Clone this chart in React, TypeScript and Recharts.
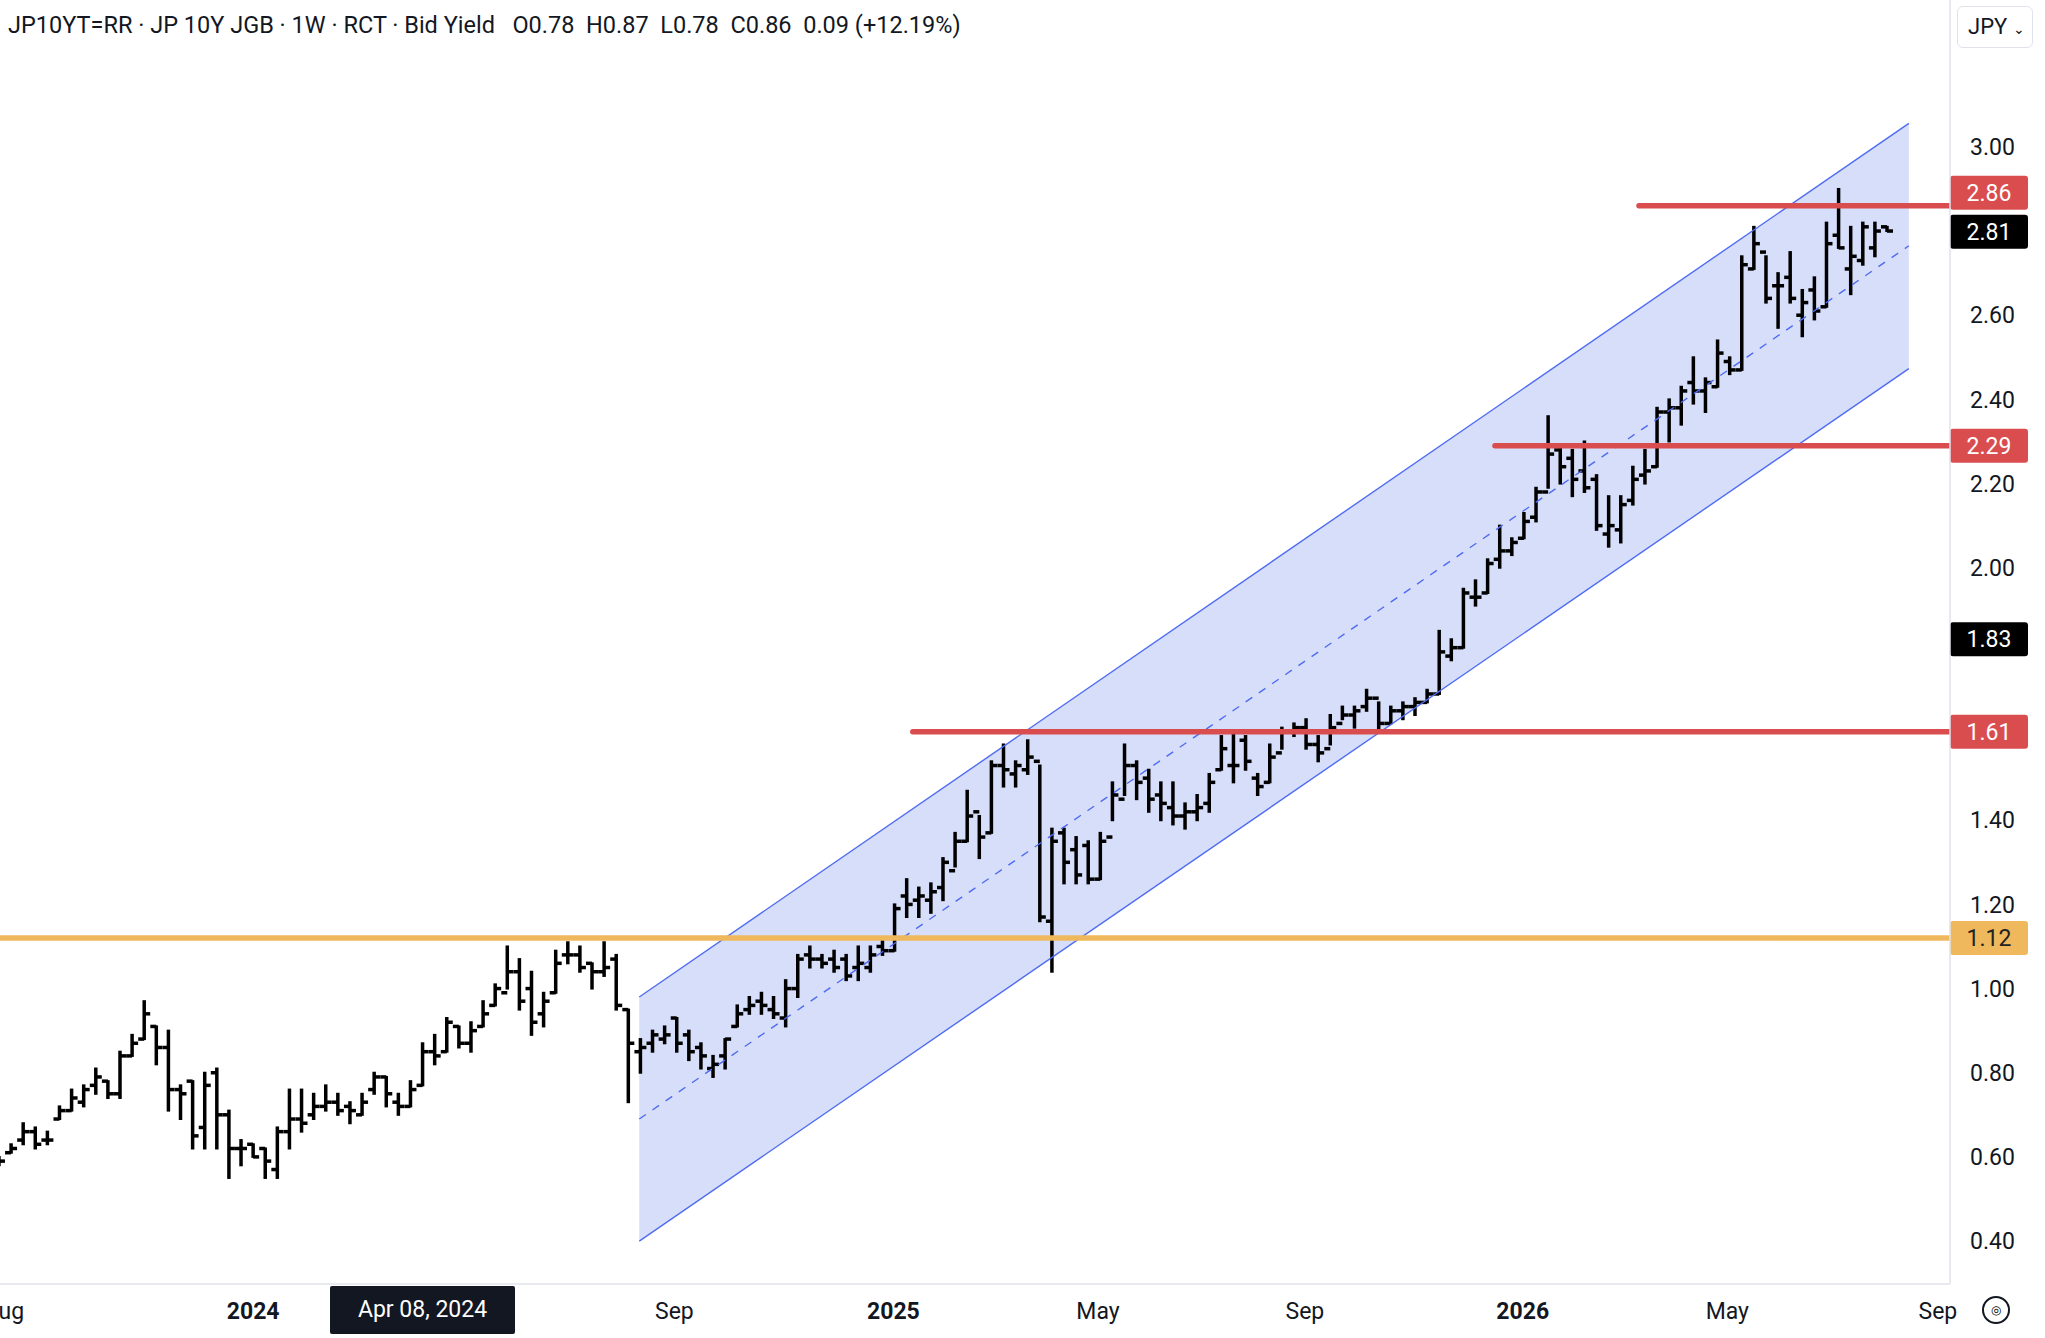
import React from 'react';
import { ComposedChart, Bar, Area, Line, XAxis, YAxis, ReferenceLine } from 'recharts';

// weekly bars: [open, high, low, close]
const ohlc: number[][] = [
  [0.59, 0.60, 0.58, 0.59], [0.61, 0.63, 0.61, 0.62], [0.64, 0.68, 0.63, 0.66], [0.66, 0.67, 0.62, 0.63],
  [0.64, 0.66, 0.63, 0.64], [0.69, 0.72, 0.69, 0.71], [0.71, 0.76, 0.71, 0.74], [0.73, 0.77, 0.72, 0.76],
  [0.77, 0.81, 0.75, 0.79], [0.78, 0.78, 0.74, 0.75], [0.75, 0.85, 0.74, 0.84], [0.84, 0.89, 0.84, 0.87],
  [0.88, 0.97, 0.88, 0.94], [0.91, 0.91, 0.82, 0.86], [0.86, 0.90, 0.71, 0.76], [0.76, 0.77, 0.69, 0.75],
  [0.78, 0.78, 0.62, 0.65], [0.67, 0.80, 0.62, 0.77], [0.80, 0.81, 0.62, 0.70], [0.70, 0.71, 0.55, 0.62],
  [0.62, 0.64, 0.58, 0.62], [0.63, 0.63, 0.60, 0.60], [0.62, 0.62, 0.55, 0.59], [0.57, 0.67, 0.55, 0.66],
  [0.66, 0.76, 0.62, 0.69], [0.69, 0.76, 0.66, 0.68], [0.70, 0.75, 0.69, 0.72], [0.72, 0.77, 0.71, 0.73],
  [0.73, 0.75, 0.70, 0.71], [0.72, 0.73, 0.68, 0.71], [0.70, 0.75, 0.70, 0.73], [0.76, 0.80, 0.75, 0.79],
  [0.79, 0.79, 0.72, 0.75], [0.73, 0.75, 0.70, 0.72], [0.72, 0.78, 0.72, 0.76], [0.77, 0.87, 0.77, 0.85],
  [0.85, 0.89, 0.82, 0.84], [0.85, 0.93, 0.85, 0.92], [0.91, 0.91, 0.86, 0.87], [0.87, 0.92, 0.85, 0.90],
  [0.91, 0.97, 0.91, 0.94], [0.96, 1.01, 0.96, 1.00], [0.99, 1.10, 1.00, 1.04], [1.04, 1.07, 0.95, 0.97],
  [1.00, 1.04, 0.89, 0.92], [0.94, 0.99, 0.91, 0.97], [0.99, 1.09, 0.99, 1.06], [1.08, 1.11, 1.06, 1.08],
  [1.08, 1.10, 1.04, 1.05], [1.06, 1.06, 1.00, 1.04], [1.04, 1.11, 1.03, 1.05], [1.07, 1.08, 0.95, 0.96],
  [0.95, 0.95, 0.73, 0.87], [0.85, 0.88, 0.80, 0.86], [0.87, 0.90, 0.85, 0.89], [0.88, 0.91, 0.87, 0.89],
  [0.93, 0.93, 0.85, 0.87], [0.89, 0.90, 0.83, 0.85], [0.86, 0.87, 0.81, 0.84], [0.81, 0.84, 0.79, 0.82],
  [0.84, 0.88, 0.81, 0.88], [0.91, 0.96, 0.91, 0.94], [0.95, 0.98, 0.94, 0.96], [0.97, 0.99, 0.94, 0.96],
  [0.95, 0.98, 0.93, 0.94], [0.93, 1.02, 0.91, 1.00], [1.00, 1.08, 0.98, 1.07], [1.08, 1.10, 1.05, 1.07],
  [1.07, 1.08, 1.05, 1.06], [1.07, 1.09, 1.04, 1.05], [1.07, 1.08, 1.02, 1.03], [1.05, 1.10, 1.02, 1.06],
  [1.05, 1.10, 1.04, 1.08], [1.10, 1.12, 1.08, 1.09], [1.09, 1.20, 1.09, 1.19], [1.22, 1.26, 1.17, 1.20],
  [1.21, 1.24, 1.17, 1.22], [1.21, 1.25, 1.18, 1.23], [1.24, 1.31, 1.21, 1.30], [1.28, 1.37, 1.29, 1.35],
  [1.35, 1.47, 1.35, 1.41], [1.42, 1.41, 1.31, 1.36], [1.37, 1.54, 1.37, 1.53], [1.53, 1.58, 1.48, 1.52],
  [1.51, 1.54, 1.48, 1.53], [1.52, 1.59, 1.51, 1.55], [1.54, 1.53, 1.16, 1.17], [1.16, 1.38, 1.04, 1.35],
  [1.37, 1.38, 1.25, 1.30], [1.33, 1.36, 1.25, 1.27], [1.34, 1.35, 1.25, 1.26], [1.26, 1.37, 1.26, 1.35],
  [1.36, 1.49, 1.40, 1.46], [1.45, 1.58, 1.46, 1.53], [1.53, 1.54, 1.45, 1.49], [1.50, 1.52, 1.42, 1.45],
  [1.46, 1.49, 1.40, 1.44], [1.43, 1.49, 1.39, 1.41], [1.41, 1.44, 1.38, 1.42], [1.42, 1.46, 1.40, 1.43],
  [1.44, 1.51, 1.42, 1.49], [1.52, 1.60, 1.52, 1.57], [1.53, 1.61, 1.49, 1.53], [1.59, 1.60, 1.52, 1.54],
  [1.50, 1.51, 1.46, 1.48], [1.49, 1.58, 1.49, 1.55], [1.56, 1.62, 1.57, 1.61], [1.61, 1.63, 1.60, 1.62],
  [1.62, 1.64, 1.57, 1.58], [1.58, 1.60, 1.54, 1.56], [1.57, 1.65, 1.58, 1.62], [1.63, 1.67, 1.64, 1.65],
  [1.65, 1.67, 1.62, 1.66], [1.67, 1.71, 1.66, 1.69], [1.69, 1.68, 1.61, 1.63], [1.63, 1.67, 1.63, 1.66],
  [1.66, 1.68, 1.64, 1.67], [1.67, 1.69, 1.65, 1.68], [1.68, 1.71, 1.68, 1.70], [1.70, 1.85, 1.70, 1.80],
  [1.79, 1.83, 1.78, 1.81], [1.81, 1.95, 1.81, 1.94], [1.93, 1.97, 1.91, 1.93], [1.94, 2.02, 1.94, 2.01],
  [2.02, 2.10, 2.00, 2.04], [2.04, 2.07, 2.03, 2.06], [2.07, 2.13, 2.07, 2.11], [2.12, 2.19, 2.11, 2.18],
  [2.18, 2.36, 2.19, 2.27], [2.28, 2.29, 2.20, 2.24], [2.26, 2.28, 2.17, 2.21], [2.23, 2.30, 2.18, 2.19],
  [2.21, 2.22, 2.09, 2.10], [2.08, 2.17, 2.05, 2.10], [2.09, 2.17, 2.06, 2.15], [2.16, 2.24, 2.15, 2.21],
  [2.22, 2.28, 2.20, 2.23], [2.24, 2.38, 2.24, 2.37], [2.37, 2.40, 2.30, 2.38], [2.38, 2.43, 2.34, 2.42],
  [2.44, 2.50, 2.39, 2.42], [2.42, 2.45, 2.37, 2.44], [2.43, 2.54, 2.43, 2.51], [2.49, 2.50, 2.46, 2.47],
  [2.47, 2.74, 2.47, 2.72], [2.71, 2.81, 2.71, 2.77], [2.75, 2.74, 2.63, 2.64], [2.67, 2.70, 2.57, 2.67],
  [2.69, 2.75, 2.63, 2.64], [2.60, 2.66, 2.55, 2.63], [2.66, 2.69, 2.59, 2.61], [2.62, 2.82, 2.62, 2.77],
  [2.79, 2.90, 2.76, 2.76], [2.71, 2.81, 2.65, 2.74], [2.73, 2.82, 2.72, 2.81], [2.76, 2.82, 2.74, 2.80],
  [2.81, 2.81, 2.80, 2.80],
];

const bars = ohlc.map((b, i) => ({ i, o: b[0], h: b[1], l: b[2], c: b[3], range: [b[2], b[1]] }));

// channel end points (week index, lower, mid, upper)
const channel = [
  { i: 52.9, band: [0.40, 0.98], lower: 0.40, mid: 0.69, upper: 0.98 },
  { i: 157.8, band: [2.473, 3.056], lower: 2.473, mid: 2.765, upper: 3.056 },
];

const xTicks = [0.4, 21.0, 55.8, 73.9, 90.8, 107.9, 125.9, 142.8, 160.2];
const xLabels = ['Aug', '2024', 'Sep', '2025', 'May', 'Sep', '2026', 'May', 'Sep'];
const yTicks = [0.4, 0.6, 0.8, 1.0, 1.2, 1.4, 2.0, 2.2, 2.4, 2.6, 3.0];

const levels = [
  { v: 1.12, from: 0.08, color: '#efb85c', tag: '1.12', text: '#222', dy: 0 },
  { v: 1.61, from: 75.5, color: '#d94d4f', tag: '1.61', text: '#fff', dy: 0 },
  { v: 2.29, from: 123.6, color: '#d94d4f', tag: '2.29', text: '#fff', dy: 0 },
  { v: 2.86, from: 135.5, color: '#d94d4f', tag: '2.86', text: '#fff', dy: -13 },
];
const darkTags = [{ v: 2.81, tag: '2.81', dy: 5 }, { v: 1.83, tag: '1.83', dy: 0 }];

const FONT = 'Roboto, "Noto Sans", sans-serif';
const X_MAX = 161.2;

const OhlcShape = (p: any) => {
  const { x, y, width, height, payload } = p;
  if (height == null) return null;
  const cx = x + width / 2;
  const per = height / (payload.h - payload.l || 1);
  const oy = y + (payload.h - payload.o) * per;
  const cy = y + (payload.h - payload.c) * per;
  return (
    <g stroke="#000" strokeWidth={3.5}>
      <line x1={cx} x2={cx} y1={y - 1} y2={y + height + 1} />
      <line x1={cx - 6} x2={cx} y1={oy} y2={oy} />
      <line x1={cx} x2={cx + 6} y1={cy} y2={cy} />
    </g>
  );
};

const Tag = (p: any) => {
  const vb = p.viewBox || {};
  const x0 = vb.x + vb.width;
  const yc = vb.y + (p.dy || 0);
  return (
    <g>
      <rect x={x0} y={yc - 17} width={78} height={34} rx={3} fill={p.bg} />
      <text x={x0 + 39} y={yc + 8} textAnchor="middle" fontSize={23} fontFamily={FONT} fill={p.fg}>
        {p.value}
      </text>
    </g>
  );
};

const XTick = (p: any) => {
  const idx = xTicks.indexOf(p.payload.value);
  const lab = xLabels[idx] ?? '';
  const bold = /^\d{4}$/.test(lab);
  return (
    <text x={p.x} y={p.y + 27} textAnchor="middle" fontSize={23} fontWeight={bold ? 700 : 400} fontFamily={FONT} fill="#131722">
      {lab}
    </text>
  );
};

export default function App() {
  return (
    <div style={{ position: 'absolute', left: 0, top: 0, width: 2045, height: 1338, background: '#fff', overflow: 'hidden' }}>
      <ComposedChart width={2045} height={1338} data={bars} margin={{ top: 0, right: 0, left: 0, bottom: 0 }}>
        <XAxis
          dataKey="i"
          type="number"
          domain={[0.08, X_MAX]}
          allowDataOverflow
          ticks={xTicks}
          interval={0}
          tick={<XTick />}
          height={54}
          tickLine={false}
          axisLine={{ stroke: '#e0e3eb', strokeWidth: 1.5 }}
        />
        <YAxis
          orientation="right"
          type="number"
          domain={[0.298, 3.349]}
          allowDataOverflow
          ticks={yTicks}
          interval={0}
          tickFormatter={(v: number) => v.toFixed(2)}
          width={95}
          tickLine={false}
          tickMargin={14}
          axisLine={{ stroke: '#e0e3eb', strokeWidth: 1.5 }}
          tick={{ fontSize: 23, fill: '#131722', fontFamily: FONT, textAnchor: 'start' }}
        />
        <Area data={channel} dataKey="band" type="linear" fill="#d7defa" fillOpacity={1} stroke="none" dot={false} activeDot={false} isAnimationActive={false} />
        <Line data={channel} dataKey="upper" type="linear" stroke="#4f6cf0" strokeWidth={1.4} dot={false} activeDot={false} isAnimationActive={false} />
        <Line data={channel} dataKey="lower" type="linear" stroke="#4f6cf0" strokeWidth={1.4} dot={false} activeDot={false} isAnimationActive={false} />
        <Line data={channel} dataKey="mid" type="linear" stroke="#4f6cf0" strokeWidth={1.4} strokeDasharray="8 8" dot={false} activeDot={false} isAnimationActive={false} />
        {levels.map((lv) => (
          <ReferenceLine
            key={lv.tag}
            segment={[{ x: lv.from, y: lv.v }, { x: X_MAX, y: lv.v }]}
            stroke={lv.color}
            strokeWidth={5.5}
            strokeLinecap="round"
          />
        ))}
        <Bar dataKey="range" barSize={10} shape={<OhlcShape />} isAnimationActive={false} />
        {levels.map((lv) => (
          <ReferenceLine key={'t' + lv.tag} y={lv.v} stroke="none" label={<Tag value={lv.tag} bg={lv.color} fg={lv.text} dy={lv.dy} />} />
        ))}
        {darkTags.map((d) => (
          <ReferenceLine key={'d' + d.tag} y={d.v} stroke="none" label={<Tag value={d.tag} bg="#000" fg="#fff" dy={d.dy} />} />
        ))}
      </ComposedChart>
      <div style={{ position: 'absolute', left: 8, top: 11, fontFamily: FONT, fontSize: 23.5, color: '#131722', whiteSpace: 'pre' }}>
        {'JP10YT=RR · JP 10Y JGB · 1W · RCT · Bid Yield   O0.78  H0.87  L0.78  C0.86  0.09 (+12.19%)'}
      </div>
      <div style={{ position: 'absolute', left: 1957, top: 6, width: 76, height: 42, border: '1px solid #e0e3eb', borderRadius: 6, fontFamily: FONT, fontSize: 22, color: '#131722', boxSizing: 'border-box', paddingLeft: 10, lineHeight: '40px' }}>
        JPY <span style={{ fontSize: 14 }}>⌄</span>
      </div>
      <div style={{ position: 'absolute', left: 330, top: 1286, width: 185, height: 48, background: '#131722', color: '#fff', fontFamily: FONT, fontSize: 23, lineHeight: '48px', textAlign: 'center', borderRadius: 2 }}>
        Apr 08, 2024
      </div>
      <div style={{ position: 'absolute', left: 1982, top: 1296, width: 28, height: 28, border: '2px solid #131722', borderRadius: '50%', boxSizing: 'border-box', fontSize: 12, textAlign: 'center', lineHeight: '24px' }}>
        ◎
      </div>
    </div>
  );
}
